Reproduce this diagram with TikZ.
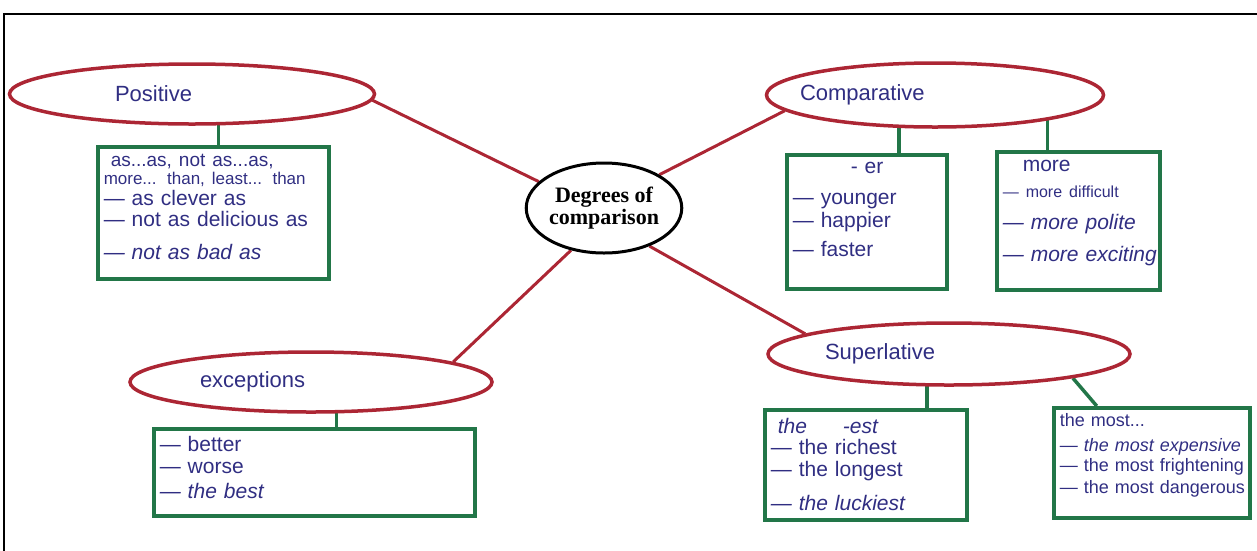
\documentclass[tikz,border=0pt]{standalone}
\usepackage{fontspec}
\setmainfont{Liberation Serif}
\newfontfamily\handfont{Liberation Sans}
\usetikzlibrary{shapes.geometric, positioning, backgrounds}

\definecolor{mapred}{RGB}{172,38,52}
\definecolor{mapgreen}{RGB}{34,118,72}
\definecolor{inkblue}{RGB}{48,46,130}

\newcommand{\mapitem}[1]{\mbox{— #1}}

\tikzset{
  topic/.style={ellipse, draw=mapred, line width=3.5pt, fill=white, inner sep=0pt,
    align=left, text=inkblue, font=\handfont\fontsize{22}{24}\selectfont},
  hub/.style={ellipse, draw=black, line width=3pt, fill=white, inner sep=0pt,
    align=center, font=\bfseries\fontsize{22}{22}\selectfont},
  listbox/.style={draw=mapgreen, line width=3.5pt, anchor=north west, inner sep=6pt,
    align=left, text=inkblue, font=\handfont\fontsize{21}{21}\selectfont},
  branch/.style={draw=mapred, line width=3pt},
  twig/.style={draw=mapgreen, line width=3.5pt},
}

\begin{document}
\begin{tikzpicture}[x=1pt,y=-1pt]
  \clip (0,0) rectangle (1257,550);
  \draw[line width=2pt] (4,14) rectangle (1275,565);

  % centre
  \node[hub, minimum width=155pt, minimum height=90pt] (hub) at (604,208) {Degrees of\\comparison};

  % the four topics
  \node[topic, minimum width=365pt, minimum height=60pt, text width=154pt] (pos) at (192,94) {Positive};
  \node[topic, minimum width=337pt, minimum height=64pt, text width=270pt, inner xsep=-20pt] (comp) at (935,95) {Comparative};
  \node[topic, minimum width=362pt, minimum height=62pt, text width=248pt] (sup) at (949,354) {Superlative};
  \node[topic, minimum width=362pt, minimum height=60pt, text width=222pt] (exc) at (311,382) {exceptions};

  % lists
  \node[listbox, minimum width=231pt, minimum height=132pt, text width=219pt] (posbox) at (96,145) {
    {\fontsize{19}{19}\selectfont\mbox{\ as...as, not as...as,}}\\[-3pt]
    {\fontsize{17}{17}\selectfont\mbox{more... than, least... than}}\\[0pt]
    \mapitem{as clever as}\\
    \mapitem{not as delicious as}\\[12pt]
    \textit{\mapitem{not as bad as}}\\[-9pt]\mbox{}};
  \node[listbox, minimum width=160pt, minimum height=134pt, text width=148pt] (erbox) at (785,153) {
    \hspace*{58pt}- er\\[10pt]
    \mapitem{younger}\\[2pt]
    \mapitem{happier}\\[8pt]
    \mapitem{faster}\\[3pt]\mbox{}};
  \node[listbox, minimum width=163pt, minimum height=138pt, text width=151pt] (morebox) at (995,150) {
    \hspace*{20pt}more\\[5pt]
    {\fontsize{16}{17}\selectfont\mapitem{more difficult}}\\[11pt]
    \textit{\mapitem{more polite}}\\[11pt]
    \textit{\mapitem{more exciting}}\\[-1pt]\mbox{}};
  \node[listbox, minimum width=202pt, minimum height=110pt, text width=190pt] (estbox) at (763,408) {
    \textit{\ the\hspace{36pt}-est}\\[0pt]
    \mapitem{the richest}\\[1pt]
    \mapitem{the longest}\\[13pt]
    \textit{\mapitem{the luckiest}}};
  \node[listbox, minimum width=196pt, minimum height=109pt, text width=184pt,
    font=\handfont\fontsize{18}{21}\selectfont] (mostbox) at (1052,406) {
    the most...\\[4pt]
    \textit{\mapitem{the most expensive}}\\[-1pt]
    \mapitem{the most frightening}\\[1pt]
    \mapitem{the most dangerous}\\[-3pt]\mbox{}};
  \node[listbox, minimum width=321pt, minimum height=87pt, text width=309pt] (excbox) at (152,427) {
    \mapitem{better}\\[1pt]
    \mapitem{worse}\\[4pt]
    \textit{\mapitem{the best}}\\[-11pt]\mbox{}};

  \begin{scope}[on background layer]
    \draw[branch] (hub.158) -- (pos.358);
    \draw[branch] (hub.31) -- (comp.186);
    \draw[branch] (hub.320) -- (sup.172);
    \draw[branch] (hub.232) -- (exc.8);

    \draw[twig] ([xshift=5pt]posbox.north) -- ++(0,-26);
    \draw[twig] ([xshift=32pt]erbox.north) -- ++(0,-30);
    \draw[twig] ([xshift=-31pt]morebox.north) -- ++(0,-36);
    \draw[twig] ([xshift=61pt]estbox.north) -- ++(0,-28);
    \draw[twig] ([xshift=-55pt]mostbox.north) -- (sup.349);
    \draw[twig] ([xshift=22pt]excbox.north) -- ++(0,-20);
  \end{scope}
\end{tikzpicture}
\end{document}
